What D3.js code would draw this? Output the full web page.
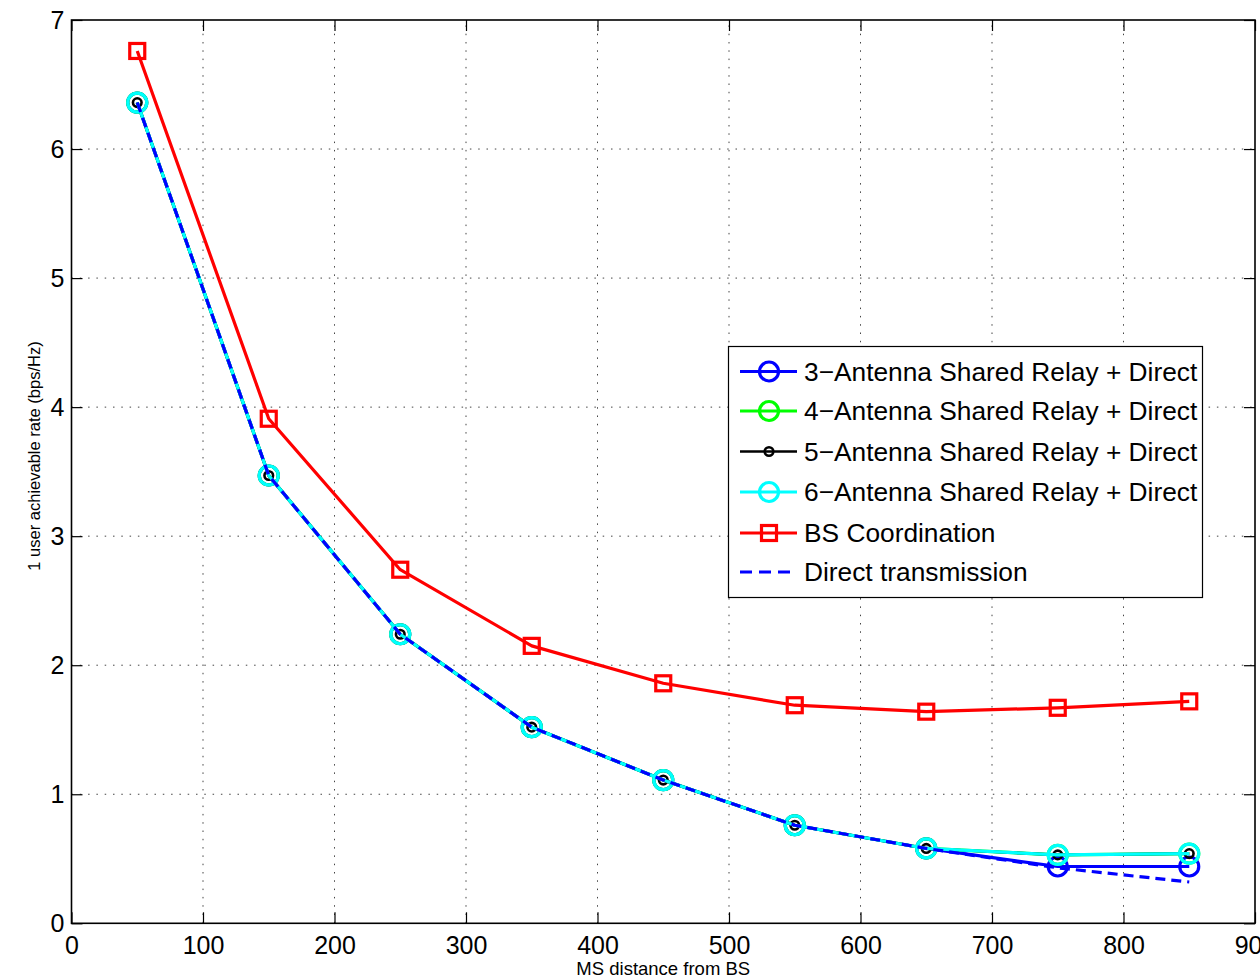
<!DOCTYPE html>
<html>
<head>
<meta charset="utf-8">
<script src="https://cdn.jsdelivr.net/npm/d3@7"></script>
<style>
  body { margin: 0; background: #fff; }
  svg { display: block; font-family: "Liberation Sans", Arial, sans-serif; }
</style>
</head>
<body>
<div id="graph"></div>
<script>
/* data */
var distance = [50, 150, 250, 350, 450, 550, 650, 750, 850];
var rate3 = [6.36, 3.47, 2.24, 1.52, 1.11, 0.76, 0.58, 0.44, 0.44];
var rate4 = [6.36, 3.47, 2.24, 1.52, 1.11, 0.76, 0.58, 0.53, 0.54];
var rate5 = [6.36, 3.47, 2.24, 1.52, 1.11, 0.76, 0.58, 0.53, 0.54];
var rate6 = [6.36, 3.47, 2.24, 1.52, 1.11, 0.76, 0.58, 0.53, 0.54];
var bsCoord = [6.76, 3.91, 2.74, 2.15, 1.86, 1.69, 1.64, 1.67, 1.72];
var direct = [6.36, 3.47, 2.24, 1.52, 1.11, 0.76, 0.58, 0.43, 0.32];

var xTicks = [0, 100, 200, 300, 400, 500, 600, 700, 800, 900];
var yTicks = [0, 1, 2, 3, 4, 5, 6, 7];

var legendNames = ["3\u2212Antenna Shared Relay + Direct", "4\u2212Antenna Shared Relay + Direct",
  "5\u2212Antenna Shared Relay + Direct", "6\u2212Antenna Shared Relay + Direct",
  "BS Coordination", "Direct transmission"];

var W = 1260, H = 980;
// plot box edges (note: "top" is taken by window.top)
var mLeft = 71.5, mRight = 1255, mTop = 20, mBottom = 923.3;

var x = d3.scaleLinear().domain([0, 900]).range([mLeft, mRight]);
var y = d3.scaleLinear().domain([0, 7]).range([mBottom, mTop]);

var svg = d3.select("#graph").append("svg")
  .attr("width", W).attr("height", H);

// dotted grid
var grid = svg.append("g").attr("stroke", "#444").attr("stroke-width", 1)
  .attr("stroke-dasharray", "1.5,6.8");
grid.selectAll("line.gx").data(xTicks.slice(1, -1)).enter().append("line")
  .attr("x1", function(d) { return x(d); }).attr("x2", function(d) { return x(d); })
  .attr("y1", mBottom).attr("y2", mTop);
grid.selectAll("line.gy").data(yTicks.slice(1, -1)).enter().append("line")
  .attr("y1", function(d) { return y(d); }).attr("y2", function(d) { return y(d); })
  .attr("x1", mLeft).attr("x2", mRight);

// axes, ticks pointing inward like matlab
var tickLen = 11;
var fmt = d3.format("d");
var xAxis = d3.axisBottom(x).tickValues(xTicks).tickFormat(fmt).tickSizeInner(-tickLen).tickSizeOuter(0).tickPadding(13);
var yAxis = d3.axisLeft(y).tickValues(yTicks).tickFormat(fmt).tickSizeInner(-tickLen).tickSizeOuter(0).tickPadding(7);
var xTop = d3.axisTop(x).tickValues(xTicks).tickSizeInner(-tickLen).tickSizeOuter(0).tickFormat("");
var yRight = d3.axisRight(y).tickValues(yTicks).tickSizeInner(-tickLen).tickSizeOuter(0).tickFormat("");

function styleAxis(g) {
  g.select(".domain").remove();
  g.selectAll(".tick line").attr("stroke", "#000").attr("stroke-width", 1.2);
  g.selectAll(".tick text").attr("fill", "#000").attr("font-size", "25px")
    .attr("font-family", "Liberation Sans, Arial, sans-serif");
}

svg.append("g").attr("transform", "translate(0," + mBottom + ")").call(xAxis).call(styleAxis);
svg.append("g").attr("transform", "translate(" + mLeft + ",0)").call(yAxis).call(styleAxis);
svg.append("g").attr("transform", "translate(0," + mTop + ")").call(xTop).call(styleAxis);
svg.append("g").attr("transform", "translate(" + mRight + ",0)").call(yRight).call(styleAxis);

svg.append("rect").attr("x", mLeft).attr("y", mTop)
  .attr("width", mRight - mLeft).attr("height", mBottom - mTop)
  .attr("fill", "none").attr("stroke", "#000").attr("stroke-width", 1.6);

// axis labels
svg.append("text").attr("x", (mLeft + mRight) / 2).attr("y", 975)
  .attr("text-anchor", "middle").attr("font-size", "18.5px")
  .text("MS distance from BS");
svg.append("text").attr("transform", "translate(40,456) rotate(-90)")
  .attr("text-anchor", "middle").attr("font-size", "16.5px")
  .text("1 user achievable rate (bps/Hz)");

var line = d3.line()
  .x(function(d, i) { return x(distance[i]); })
  .y(function(d) { return y(d); });

var series = [
  { values: rate3, color: "#0000ff", marker: "circle", r: 9.5, sw: 3.2 },
  { values: rate4, color: "#00ff00", marker: "circle", r: 9.5, sw: 3.2 },
  { values: rate5, color: "#000000", marker: "circle", r: 4.3, sw: 2.6 },
  { values: rate6, color: "#00ffff", marker: "circle", r: 9.5, sw: 3.2 },
  { values: bsCoord, color: "#ff0000", marker: "square", r: 7.5, sw: 3.2 },
  { values: direct, color: "#0000ff", marker: null, dash: "10,6", sw: 3.2 }
];

function drawMarker(g, s, cx, cy) {
  if (s.marker == "circle") {
    g.append("circle").attr("cx", cx).attr("cy", cy).attr("r", s.r)
      .attr("fill", "none").attr("stroke", s.color).attr("stroke-width", s.sw);
  } else if (s.marker == "square") {
    g.append("rect").attr("x", cx - s.r).attr("y", cy - s.r)
      .attr("width", 2 * s.r).attr("height", 2 * s.r)
      .attr("fill", "none").attr("stroke", s.color).attr("stroke-width", s.sw);
  }
}

var plot = svg.append("g");
series.forEach(function(s) {
  plot.append("path").attr("d", line(s.values))
    .attr("fill", "none").attr("stroke", s.color).attr("stroke-width", s.sw)
    .attr("stroke-linejoin", "round")
    .attr("stroke-dasharray", s.dash ? s.dash : null);
  s.values.forEach(function(v, i) {
    drawMarker(plot, s, x(distance[i]), y(v));
  });
});

// legend
var lg = svg.append("g");
lg.append("rect").attr("x", 728.5).attr("y", 346.5).attr("width", 474).attr("height", 251)
  .attr("fill", "#fff").attr("stroke", "#000").attr("stroke-width", 1.2);
var rowY = [371.5, 411, 451.5, 492, 533, 572];
series.forEach(function(s, i) {
  var yy = rowY[i];
  lg.append("line").attr("x1", 740).attr("x2", 797).attr("y1", yy).attr("y2", yy)
    .attr("stroke", s.color).attr("stroke-width", s.sw)
    .attr("stroke-dasharray", s.dash ? "12,7" : null);
  drawMarker(lg, s, 769, yy);
  lg.append("text").attr("x", 804).attr("y", yy + 9).attr("font-size", "26.3px")
    .attr("fill", "#000").text(legendNames[i]);
});
</script>
</body>
</html>
